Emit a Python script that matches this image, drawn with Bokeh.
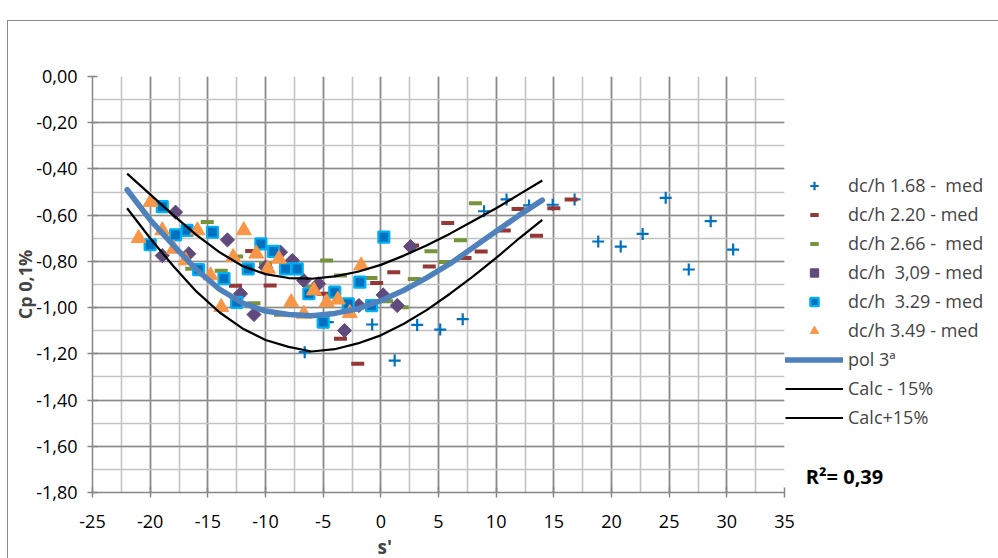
import math
from bokeh.plotting import figure
from bokeh.models import (Range1d, SingleIntervalTicker, CustomJSTickFormatter,
                          Legend, LegendItem, Title)
from bokeh.embed import file_html
from bokeh.resources import INLINE

# ---- data ----
S168_X = [-6.6, -4.6, -0.75, 1.2, 3.15, 5.15, 7.1, 8.95, 10.9, 12.85, 14.9, 16.8,
          18.85, 20.8, 22.7, 24.7, 26.7, 28.6, 30.55]
S168_Y = [-1.193, -1.063, -1.073, -1.229, -1.075, -1.095, -1.05, -0.583, -0.532, -0.558,
          -0.555, -0.532, -0.714, -0.736, -0.681, -0.525, -0.835, -0.626, -0.749]

S220_X = [-12.6, -11.2, -9.6, -5.0, -3.5, -2.0, -0.36, 1.12, 2.75, 4.2, 5.8, 7.3, 8.7,
          10.7, 11.9, 13.5, 15.0, 16.5]
S220_Y = [-0.905, -0.755, -0.904, -0.94, -1.135, -1.243, -0.894, -0.847, -0.731, -0.822,
          -0.634, -0.785, -0.757, -0.666, -0.573, -0.689, -0.57, -0.532]

S266_X = [-16.4, -15.05, -13.84, -12.5, -11.0, -10.0, -8.7, -6.0, -4.7, -3.5, -0.85, 0.5,
          1.85, 2.9, 4.35, 5.6, 6.9, 8.2]
S266_Y = [-0.832, -0.63, -0.84, -0.779, -0.981, -0.81, -1.031, -0.91, -0.796, -0.861,
          -0.872, -0.972, -0.998, -0.876, -0.756, -0.803, -0.708, -0.548]

S309_X = [-18.95, -17.8, -16.65, -13.3, -12.16, -11.0, -10.0, -8.7, -7.68, -6.68, -5.4,
          -3.15, -1.9, 0.2, 1.42, 2.58]
S309_Y = [-0.775, -0.587, -0.767, -0.707, -0.94, -1.03, -0.825, -0.76, -0.796, -0.883,
          -0.897, -1.099, -0.991, -0.945, -0.991, -0.736]

S329_X = [-20.0, -18.95, -17.8, -16.8, -15.8, -14.6, -13.6, -12.5, -11.5, -10.4, -9.3,
          -8.26, -7.25, -6.24, -5.0, -4.0, -2.83, -1.82, -0.8, 0.26]
S329_Y = [-0.728, -0.563, -0.685, -0.666, -0.836, -0.674, -0.875, -0.977, -0.832, -0.724,
          -0.757, -0.832, -0.832, -0.94, -1.063, -0.933, -0.984, -0.89, -0.991, -0.695]

S349_X = [-21.0, -19.97, -18.95, -17.95, -16.93, -15.9, -14.77, -13.84, -12.8, -11.88,
          -10.8, -9.8, -8.84, -7.77, -6.68, -5.8, -4.7, -3.73, -2.69, -1.7]
S349_Y = [-0.70, -0.544, -0.666, -0.746, -0.796, -0.666, -0.861, -0.998, -0.782, -0.666,
          -0.767, -0.832, -0.789, -0.977, -1.027, -0.926, -0.977, -0.966, -1.024, -0.818]

CURVE_X = [-22, -20, -18, -16, -14, -12, -10, -8, -6, -4, -2, 0, 2, 4, 6, 8, 10, 12, 14]
POL3_Y = [-0.49, -0.62, -0.73, -0.835, -0.92, -0.98, -1.015, -1.03, -1.035, -1.025,
          -1.005, -0.97, -0.925, -0.87, -0.81, -0.74, -0.67, -0.60, -0.535]
CALC_M15_Y = [-0.42, -0.51, -0.60, -0.685, -0.76, -0.82, -0.855, -0.872, -0.875, -0.865,
              -0.845, -0.815, -0.775, -0.73, -0.68, -0.625, -0.57, -0.51, -0.45]
CALC_P15_Y = [-0.57, -0.70, -0.82, -0.93, -1.02, -1.09, -1.14, -1.17, -1.19, -1.18,
              -1.155, -1.12, -1.07, -1.01, -0.94, -0.865, -0.785, -0.70, -0.62]

LABELS = ["dc/h 1.68 -  med", "dc/h 2.20 - med", "dc/h 2.66 -  med", "dc/h  3,09 - med",
          "dc/h  3.29 - med", "dc/h 3.49 - med", "pol 3ª", "Calc - 15%", "Calc+15%"]
R2_TEXT = "R²= 0,39"
X_TITLE = "s'"
Y_TITLE = "Cp 0,1%"

FONT = "Open Sans"

p = figure(frame_width=692, frame_height=416,
           min_border_left=84, min_border_top=55, min_border_bottom=66, min_border_right=210,
           x_range=Range1d(-25, 35), y_range=Range1d(-1.8, 0),
           output_backend="svg", toolbar_location=None)
p.margin = (20, 0, 0, 7)
p.styles = {"border-left": "1px solid #8a8a8a", "border-top": "1px solid #8a8a8a"}
p.outline_line_color = None
p.background_fill_color = "white"
p.border_fill_color = "white"

p.xaxis.ticker = SingleIntervalTicker(interval=5, num_minor_ticks=2)
p.yaxis.ticker = SingleIntervalTicker(interval=0.2, num_minor_ticks=2)
p.xaxis.formatter = CustomJSTickFormatter(code="return tick.toFixed(0);")
p.yaxis.formatter = CustomJSTickFormatter(code="return tick.toFixed(2).replace('.', ',');")

for ax in (p.xaxis[0], p.yaxis[0]):
    ax.axis_line_color = "#868686"
    ax.axis_line_width = 1.5
    ax.major_tick_line_color = "#868686"
    ax.major_tick_line_width = 1.5
    ax.major_tick_in = 5
    ax.major_tick_out = 5
    ax.minor_tick_line_color = None
    ax.major_label_text_font = FONT
    ax.major_label_text_font_size = "18px"
    ax.major_label_text_color = "black"
p.xaxis.major_label_standoff = 17
p.yaxis.major_label_standoff = 10

p.yaxis.axis_label = Y_TITLE
p.yaxis.axis_label_text_font = FONT
p.yaxis.axis_label_text_font_style = "bold"
p.yaxis.axis_label_text_font_size = "18px"
p.yaxis.axis_label_standoff = -4

for g in (p.xgrid[0], p.ygrid[0]):
    g.grid_line_color = "#8a8a8a"
    g.grid_line_width = 1.6
    g.minor_grid_line_color = "#c3c3c3"
    g.minor_grid_line_width = 1.6

r1 = p.scatter(S168_X, S168_Y, marker="cross", size=12, line_color="#0070C0", line_width=2.2)
r2 = p.scatter(S220_X, S220_Y, marker="dash", size=13, line_color="#953735", line_width=4)
r3 = p.scatter(S266_X, S266_Y, marker="dash", size=13, line_color="#77933C", line_width=4)
r4 = p.scatter(S309_X, S309_Y, marker="square", size=10, angle=math.pi / 4,
               fill_color="#604A7B", line_color="#604A7B", line_width=1)
r5 = p.scatter(S329_X, S329_Y, marker="square", size=11, fill_color="#0070C0",
               line_color="#00B0F0", line_width=2.2)
r6 = p.scatter(S349_X, S349_Y, marker="triangle", size=15, fill_color="#F79646",
               line_color="#F79646", line_width=1)

r7 = p.line(CURVE_X, POL3_Y, line_color="#4F81BD", line_width=5.5, line_cap="round")
r8 = p.line(CURVE_X, CALC_M15_Y, line_color="black", line_width=2.2)
r9 = p.line(CURVE_X, CALC_P15_Y, line_color="black", line_width=2.2)

renderers = [r1, r2, r3, r4, r5, r6, r7, r8, r9]
legend = Legend(items=[LegendItem(label=l, renderers=[r]) for l, r in zip(LABELS, renderers)],
                location=(1, 2), orientation="vertical",
                glyph_width=58, glyph_height=21, label_height=21, spacing=5,
                padding=0, margin=0, label_standoff=5,
                border_line_color=None, background_fill_alpha=0,
                label_text_font=FONT, label_text_font_size="18px",
                title="\u00a0\u00a0\u00a0\u00a0" + R2_TEXT, title_location="below",
                title_standoff=34, title_text_font=FONT, title_text_font_style="bold",
                title_text_font_size="20px", title_text_color="black")
p.add_layout(legend, "right")

p.add_layout(Title(text=X_TITLE, align="left", offset=285, standoff=2, text_font=FONT,
                   text_font_style="bold", text_font_size="19px"), "below")

open("out.html", "w").write(file_html(p, INLINE))
